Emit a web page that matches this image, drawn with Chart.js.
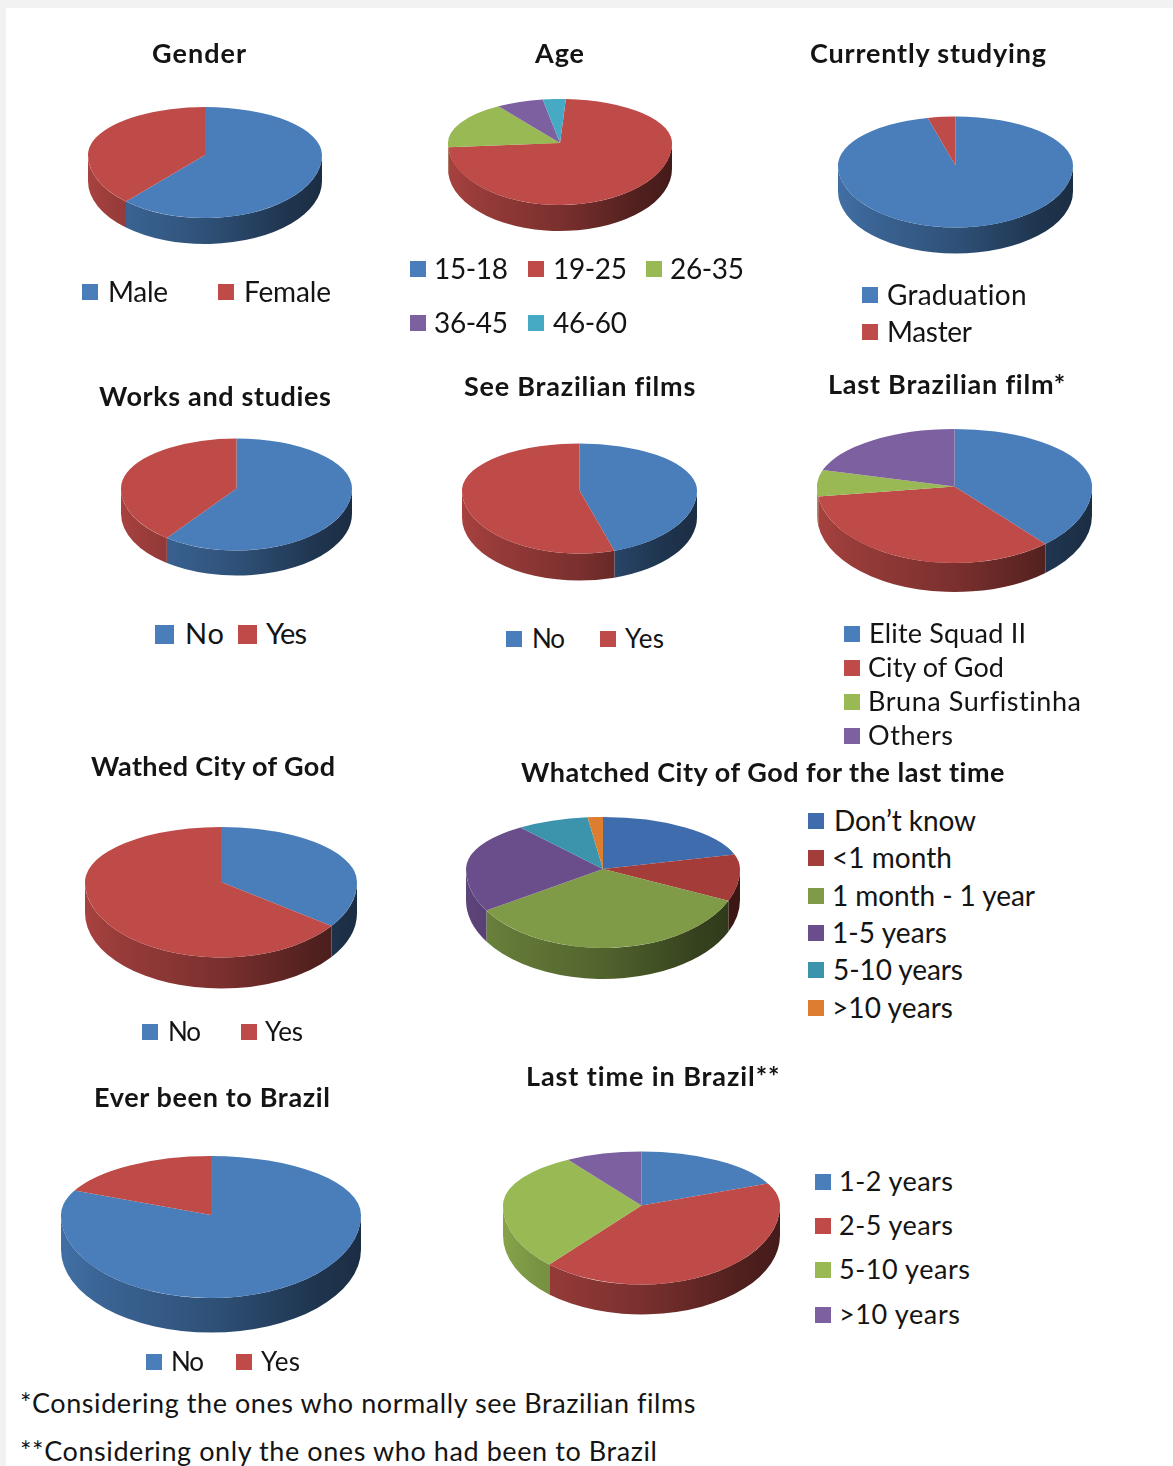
<!DOCTYPE html>
<html>
<head>
<meta charset="utf-8">
<title>Survey profile</title>
<script src="https://cdn.jsdelivr.net/npm/chart.js@4/dist/chart.umd.js"></script>
<style>
  html, body { margin: 0; padding: 0; background: #f2f2f2; }
  #page { position: absolute; left: 6px; top: 8px; width: 1167px; height: 1458px; background: #fff; }
  #board { position: absolute; left: 0; top: 0; width: 1173px; height: 1466px; overflow: hidden; }
  #board canvas { position: absolute; }
  .txt { position: absolute; white-space: pre; line-height: 1; color: #141414; font-family: Lato, "Open Sans", sans-serif; transform: translateY(calc(-50% - 1.5px)); }
  .title { font-weight: 700; }
  .swatch { position: absolute; }
</style>
</head>
<body>
<div id="page"></div>
<div id="board"></div>
<script>
// survey answers, in percent
const genderLabels = ['Male', 'Female'];
const genderValues = [61.8, 38.2];
const ageLabels = ['15-18', '19-25', '26-35', '36-45', '46-60'];
const ageValues = [0, 73.1, 16.8, 6.8, 3.3];
const studyingLabels = ['Graduation', 'Master'];
const studyingValues = [96.2, 3.8];
const worksLabels = ['No', 'Yes'];
const worksValues = [60.3, 39.7];
const seeFilmsLabels = ['No', 'Yes'];
const seeFilmsValues = [45.2, 54.8];
const lastFilmLabels = ['Elite Squad II', 'City of God', 'Bruna Surfistinha', 'Others'];
const lastFilmValues = [38.5, 34.4, 6.7, 20.4];
const watchedLabels = ['No', 'Yes'];
const watchedValues = [34.9, 65.1];
const lastWatchLabels = ['Don\u2019t know', '<1 month', '1 month - 1 year', '1-5 years', '5-10 years', '>10 years'];
const lastWatchValues = [20.5, 11.1, 34.6, 23.5, 8.5, 1.8];
const beenLabels = ['No', 'Yes'];
const beenValues = [81.8, 18.2];
const lastTimeLabels = ['1-2 years', '2-5 years', '5-10 years', '>10 years'];
const lastTimeValues = [18.3, 43.3, 29.5, 8.9];

const palette = ['#4a7ebb', '#be4b48', '#98b954', '#7d60a0', '#46aac5', '#f69240'];
const darkPalette = ['#3e6cac', '#a43c39', '#7f9b47', '#6a4e8c', '#3b94ac', '#dc7d2f'];

// cx, cy: where the slices meet; rx: half width; ryTop, ryBottom: reach of the top face
// above and below that point (the far half looks shorter); depth: height of the side wall
// title: [left, centre y, width]; legend rows: [swatch x, centre y, text x, text width]
const panels = [
  { name: 'Gender', labels: genderLabels, values: genderValues,
    cx: 205, cy: 155, rx: 117, ryTop: 48, ryBottom: 63, depth: 26, title: [152, 54, 94],
    font: 28, box: 16, legend: [[82, 292, 108, 60], [218, 292, 244, 87]] },
  { name: 'Age', labels: ageLabels, values: ageValues, rotation: 3,
    cx: 560, cy: 143, rx: 112, ryTop: 44, ryBottom: 62, depth: 26, title: [535, 54, 49],
    font: 28, box: 16, legend: [[410, 269, 434, 74], [528, 269, 553, 74], [646, 269, 670, 74], [410, 323, 434, 74], [528, 323, 553, 74]] },
  { name: 'Currently studying', labels: studyingLabels, values: studyingValues,
    cx: 955.5, cy: 165, rx: 117.5, ryTop: 49, ryBottom: 62, depth: 26, title: [810, 54, 236],
    font: 28, box: 16, legend: [[862, 295, 887, 140], [862, 332, 887, 85]] },
  { name: 'Works and studies', labels: worksLabels, values: worksValues,
    cx: 236.5, cy: 488, rx: 115.5, ryTop: 50, ryBottom: 62, depth: 25, title: [99, 397, 232],
    font: 29, box: 19, legend: [[155, 634, 185, 39], [238, 634, 266, 41]] },
  { name: 'See Brazilian films', labels: seeFilmsLabels, values: seeFilmsValues,
    cx: 579, cy: 490, rx: 117.5, ryTop: 47, ryBottom: 63, depth: 27, title: [464, 387, 231],
    font: 26, box: 16, legend: [[506, 639, 532, 33], [600, 639, 625, 39]] },
  { name: 'Last Brazilian film*', labels: lastFilmLabels, values: lastFilmValues,
    cx: 954.5, cy: 486.5, rx: 137.5, ryTop: 57.5, ryBottom: 76.5, depth: 29, title: [828, 385, 237],
    font: 27, box: 16, legend: [[844, 634, 869, 157], [844, 668, 868, 136], [844, 702, 868, 213], [844, 736, 868, 85]] },
  { name: 'Wathed City of God', labels: watchedLabels, values: watchedValues,
    cx: 221, cy: 881.5, rx: 136, ryTop: 55, ryBottom: 75.5, depth: 31, title: [91, 767, 244],
    font: 26, box: 16, legend: [[142, 1032, 168, 33], [241, 1032, 265, 38]] },
  { name: 'Whatched City of God for the last time', labels: lastWatchLabels, values: lastWatchValues, colors: darkPalette,
    cx: 602.5, cy: 869, rx: 137, ryTop: 52, ryBottom: 79, depth: 31, title: [521, 773, 484],
    font: 28, box: 16, legend: [[808, 821, 834, 142], [808, 858, 832, 120], [808, 896, 832, 203], [808, 933, 832, 115], [808, 970, 833, 130], [808, 1008, 832, 121]] },
  { name: 'Ever been to Brazil', labels: beenLabels, values: beenValues,
    cx: 211, cy: 1215, rx: 150, ryTop: 59, ryBottom: 83, depth: 34.5, title: [94, 1098, 236],
    font: 26, box: 16, legend: [[146, 1362, 171, 33], [236, 1362, 261, 39]] },
  { name: 'Last time in Brazil**', labels: lastTimeLabels, values: lastTimeValues,
    cx: 641.5, cy: 1205, rx: 138.5, ryTop: 54, ryBottom: 79, depth: 30, title: [526, 1077, 254],
    font: 27, box: 16, legend: [[815, 1182, 839, 114], [815, 1226, 839, 114], [815, 1270, 839, 131], [815, 1315, 839, 121]] }
];

const footnotes = [
  ['*Considering the ones who normally see Brazilian films', 20, 1404, 675],
  ['**Considering only the ones who had been to Brazil', 20, 1452, 637]
];

const board = document.getElementById('board');

function shade(hex, k) {
  const n = parseInt(hex.slice(1), 16);
  const r = Math.round(((n >> 16) & 255) * k);
  const g = Math.round(((n >> 8) & 255) * k);
  const b = Math.round((n & 255) * k);
  return `rgb(${r},${g},${b})`;
}

// lays the pie down: side wall first, then the arcs squashed separately above and below the centre
const pie3d = {
  id: 'pie3d',
  beforeDatasetDraw(chart, args, opts) {
    const { ctx } = chart;
    const arcs = args.meta.data;
    const cx = arcs[0].x, cy = arcs[0].y;
    const radius = arcs[0].outerRadius;

    arcs.forEach((arc, i) => {
      // only the part of the rim between 0 and PI faces the viewer
      for (const turn of [0, Math.PI * 2]) {
        const a = Math.max(arc.startAngle + turn, 0);
        const b = Math.min(arc.endAngle + turn, Math.PI);
        if (b <= a) continue;
        const color = chart.data.datasets[0].backgroundColor[i];
        const g = ctx.createLinearGradient(cx - radius, 0, cx + radius, 0);
        g.addColorStop(0, shade(color, 0.88));
        g.addColorStop(0.12, shade(color, 0.8));
        g.addColorStop(0.5, shade(color, 0.64));
        g.addColorStop(0.85, shade(color, 0.42));
        g.addColorStop(1, shade(color, 0.36));
        ctx.beginPath();
        ctx.ellipse(cx, cy, radius, opts.ryBottom, 0, a, b);
        ctx.ellipse(cx, cy + opts.depth, radius, opts.ryBottom, 0, b, a, true);
        ctx.closePath();
        ctx.fillStyle = g;
        ctx.fill();
      }
    });

    const halves = [
      { y: 0, h: cy + 0.5, ry: opts.ryTop },
      { y: cy, h: chart.height - cy, ry: opts.ryBottom }
    ];
    halves.forEach(half => {
      ctx.save();
      ctx.beginPath();
      ctx.rect(0, half.y, chart.width, half.h);
      ctx.clip();
      ctx.translate(cx, cy);
      ctx.scale(1, half.ry / radius);
      ctx.translate(-cx, -cy);
      arcs.forEach(arc => arc.draw(ctx));
      ctx.restore();
    });
    return false;
  }
};

function addText(text, left, y, width, size, cls) {
  const el = document.createElement('span');
  el.className = 'txt ' + (cls || '');
  el.textContent = text;
  el.style.left = left + 'px';
  el.style.top = y + 'px';
  el.style.fontSize = size + 'px';
  board.appendChild(el);
  // nudge the tracking so the line runs to its full width
  const w = el.getBoundingClientRect().width;
  el.style.letterSpacing = ((width - w) / Math.max(text.length - 1, 1)).toFixed(3) + 'px';
}

panels.forEach(p => {
  const colors = p.colors || palette;
  const side = p.rx * 2 + 4;
  const canvas = document.createElement('canvas');
  canvas.width = side;
  canvas.height = side;
  canvas.style.left = (p.cx - side / 2) + 'px';
  canvas.style.top = (p.cy - side / 2) + 'px';
  canvas.style.width = side + 'px';
  canvas.style.height = side + 'px';
  board.appendChild(canvas);

  new Chart(canvas, {
    type: 'pie',
    data: {
      labels: p.labels,
      datasets: [{ data: p.values, backgroundColor: colors.slice(0, p.values.length), borderWidth: 0 }]
    },
    options: {
      responsive: false,
      animation: false,
      rotation: p.rotation || 0,
      layout: { padding: 2 },
      plugins: {
        legend: { display: false },
        title: { display: false },
        tooltip: { enabled: false },
        pie3d: { ryTop: p.ryTop, ryBottom: p.ryBottom, depth: p.depth }
      }
    },
    plugins: [pie3d]
  });

  addText(p.name, p.title[0], p.title[1], p.title[2], 27, 'title');

  p.legend.forEach((row, i) => {
    const box = document.createElement('div');
    box.className = 'swatch';
    box.style.left = row[0] + 'px';
    box.style.top = (row[1] - p.box / 2) + 'px';
    box.style.width = p.box + 'px';
    box.style.height = p.box + 'px';
    box.style.background = colors[i];
    board.appendChild(box);
    addText(p.labels[i], row[2], row[1], row[3], p.font);
  });
});

footnotes.forEach(f => addText(f[0], f[1], f[2], f[3], 27));
</script>
</body>
</html>
